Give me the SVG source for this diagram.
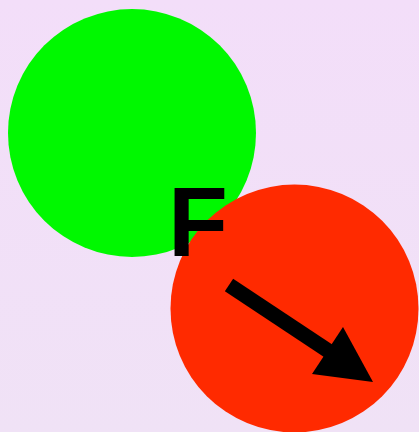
<svg xmlns="http://www.w3.org/2000/svg" width="419" height="432" viewBox="0 0 419 432">
<defs>
<linearGradient id="bg" x1="0" y1="0" x2="0" y2="1">
<stop offset="0" stop-color="#f3def9"/>
<stop offset="1" stop-color="#f0e2f6"/>
</linearGradient>
<style>
.lbl{font-family:"Liberation Sans",Arial,sans-serif;font-weight:bold;fill:#000}
</style>
</defs>
<rect width="419" height="432" fill="url(#bg)"/>
<g id="green-ball"><circle cx="132" cy="133" r="124" fill="#00f800"/></g>
<g id="red-ball"><circle cx="294.5" cy="308.5" r="124" fill="#ff2a00"/></g>
<g id="label-F"><text class="lbl" x="168" y="256" font-size="98">F</text></g>
<g id="connectors">
<line x1="229" y1="285" x2="330" y2="352" stroke="#000" stroke-width="15"/>
<polygon points="343,327 373,382 312,374" fill="#000"/>
</g>
</svg>
